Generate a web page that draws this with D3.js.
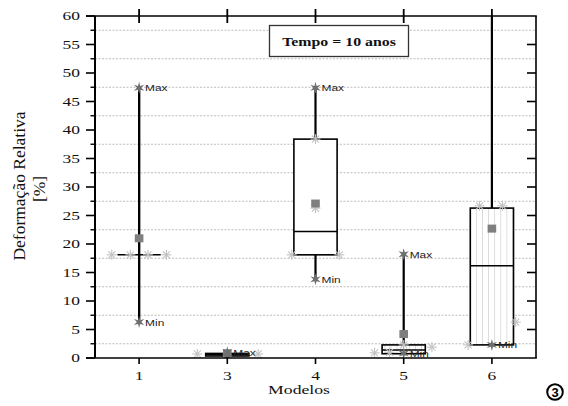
<!DOCTYPE html>
<html><head><meta charset="utf-8">
<script src="https://cdn.jsdelivr.net/npm/d3@7"></script>
<style>html,body{margin:0;padding:0;background:#fff}svg{display:block}</style>
</head><body><svg id="c" width="568" height="406"></svg>
<script>
// ---- data ----
const models = ["1", "3", "4", "5", "6"];
const minV  = [6.3, 0.2, 13.8, 0.8, 2.3];
const q1V   = [18.1, 0.35, 18.1, 0.75, 2.3];
const medV  = [18.1, 0.55, 22.2, 1.4, 16.2];
const q3V   = [18.1, 0.8, 38.4, 2.3, 26.3];
const maxV  = [47.4, 1.0, 47.4, 18.2, 75];
const meanV = [21.0, 0.85, 27.1, 4.2, 22.7];
const hatched = [false, false, false, true, true];
const minLabel = [true, false, true, true, true];
const maxLabel = [true, true, true, true, false];
const ptModel = ["1","1","1","1","3","3","4","4","4","4","5","5","5","5","6","6","6","6"];
const ptValue = [18.1,18.1,18.1,18.1,0.7,0.7,18.1,18.1,38.4,26.3,0.9,1.0,2.3,1.9,2.3,6.3,26.7,26.7];
const ptSlot  = [-0.31,-0.10,0.10,0.31,-0.34,0.35,-0.27,0.27,0,0,-0.33,-0.16,0,0.32,-0.27,0.27,-0.14,0.12];
const yTicks = d3.range(0, 61, 5);
const yMinor = d3.range(2.5, 60, 5);
const xTitle = "Modelos";
const yTitle1 = "Deformação Relativa";
const yTitle2 = "[%]";
const legendText = "Tempo = 10 anos";

// ---- layout ----
const L = 95, R = 536, T = 16, B = 358;
const svg = d3.select("#c");
const x = d3.scaleBand().domain(models).range([L, R]).padding(0);
const y = d3.scaleLinear().domain([0, 60]).range([B, T]);
const bw = x.bandwidth();
const slot = d3.scaleLinear().domain([-1, 1]).range([-bw, bw]);
const cx = m => x(m) + bw / 2;
const boxW = bw * 0.49;
const SX = 1.4;
const serif = "'Liberation Serif','Times New Roman',serif";
const sans = "'Liberation Sans',Arial,sans-serif";

function stext(g, px, py, str, o) {
  return g.append("text")
    .attr("transform", `translate(${px},${py}) scale(${o.sx || SX},1)`)
    .attr("text-anchor", o.anchor || "start")
    .attr("font-family", o.font || serif)
    .attr("font-size", o.size || 12.5)
    .attr("font-weight", o.weight || "normal")
    .attr("fill", o.fill || "#111")
    .text(str);
}

// hatch pattern
const defs = svg.append("defs");
const pat = defs.append("pattern").attr("id", "hatch").attr("patternUnits", "userSpaceOnUse")
  .attr("x", 470.7).attr("y", 0).attr("width", 6.1).attr("height", 10);
pat.append("rect").attr("width", 6.1).attr("height", 10).attr("fill", "#fff");
pat.append("line").attr("x1", 6.1).attr("x2", 6.1).attr("y1", 0).attr("y2", 10)
  .attr("stroke", "#c8c8c8").attr("stroke-width", 1.2);
defs.append("clipPath").attr("id", "plot").append("rect")
  .attr("x", L).attr("y", T).attr("width", R - L).attr("height", B - T);

// gridlines
svg.append("g").selectAll("line").data(yMinor).join("line")
  .attr("x1", L).attr("x2", R).attr("y1", d => y(d)).attr("y2", d => y(d))
  .attr("stroke", "#bdbdbd").attr("stroke-width", 1).attr("stroke-dasharray", "2,1.5");

// legend box
svg.append("rect").attr("x", 269.5).attr("y", 25.5).attr("width", 139).attr("height", 31)
  .attr("fill", "#fff").attr("stroke", "#333").attr("stroke-width", 1.3);
stext(svg, 339, 46, legendText, {anchor: "middle", size: 11.5, weight: "bold", sx: 1.38});

const plot = svg.append("g").attr("clip-path", "url(#plot)");

// boxes
models.forEach((m, i) => {
  const c = cx(m);
  // whiskers
  plot.append("line").attr("x1", c).attr("x2", c).attr("y1", y(q3V[i])).attr("y2", y(maxV[i]))
    .attr("stroke", "#000").attr("stroke-width", 2.2);
  plot.append("line").attr("x1", c).attr("x2", c).attr("y1", y(minV[i])).attr("y2", y(q1V[i]))
    .attr("stroke", "#000").attr("stroke-width", 2.2);
  plot.append("rect").attr("x", c - boxW / 2).attr("width", boxW)
    .attr("y", y(q3V[i])).attr("height", y(q1V[i]) - y(q3V[i]))
    .attr("fill", hatched[i] ? "url(#hatch)" : (q3V[i] - q1V[i] > 1 ? "#fff" : "none"))
    .attr("stroke", "#000").attr("stroke-width", q3V[i] === q1V[i] ? 2.2 : 1.6);
  plot.append("line").attr("x1", c - boxW / 2).attr("x2", c + boxW / 2)
    .attr("y1", y(medV[i])).attr("y2", y(medV[i])).attr("stroke", "#000").attr("stroke-width", 1.5);
});
// whisker for model 1 passes through box again (collapsed box)
plot.append("line").attr("x1", cx("1")).attr("x2", cx("1")).attr("y1", y(maxV[0])).attr("y2", y(minV[0]))
  .attr("stroke", "#000").attr("stroke-width", 2.2);

// light asterisks
function lightAst(g, px, py) {
  const r = 5;
  const a = g.append("g").attr("transform", `translate(${px},${py})`)
    .attr("stroke", "#c2c2c2").attr("stroke-width", 1.1);
  [0, 45, 90, 135].forEach(ang => {
    const t = ang * Math.PI / 180;
    a.append("line").attr("x1", -r * Math.cos(t)).attr("y1", -r * Math.sin(t))
      .attr("x2", r * Math.cos(t)).attr("y2", r * Math.sin(t));
  });
}
ptModel.forEach((m, i) => lightAst(plot, cx(m) + slot(ptSlot[i]), y(ptValue[i])));

// mean squares
models.forEach((m, i) => {
  plot.append("rect").attr("x", cx(m) - 4.3).attr("y", y(meanV[i]) - 4)
    .attr("width", 8.6).attr("height", 8).attr("fill", "#7f7f7f");
});

// star markers
function starPath(ro, ri, n) {
  const pts = [];
  for (let k = 0; k < 2 * n; k++) {
    const r = k % 2 === 0 ? ro : ri;
    const t = -Math.PI / 2 + k * Math.PI / n;
    pts.push([r * Math.cos(t), r * Math.sin(t)]);
  }
  return "M" + pts.map(p => p.join(",")).join("L") + "Z";
}
const sp = starPath(6, 2.2, 6);
models.forEach((m, i) => {
  const c = cx(m);
  if (maxV[i] <= 60) {
    plot.append("path").attr("d", sp).attr("transform", `translate(${c},${y(maxV[i])})`).attr("fill", "#6f6f6f");
    if (maxLabel[i]) stext(svg, c + 6, y(maxV[i]) + 3.5, "Max", {font: sans, size: 8.5, sx: 1.4, fill: "#222"});
  }
  plot.append("path").attr("d", sp).attr("transform", `translate(${c},${y(minV[i])})`).attr("fill", "#6f6f6f");
  if (minLabel[i]) stext(svg, c + 6, y(minV[i]) + 3.5, "Min", {font: sans, size: 8.5, sx: 1.4, fill: "#222"});
});

// frame
const ax = svg.append("g").attr("stroke", "#000");
ax.append("line").attr("x1", L).attr("x2", L).attr("y1", T).attr("y2", B).attr("stroke-width", 2);
ax.append("line").attr("x1", 86).attr("x2", R + 0.8).attr("y1", B).attr("y2", B).attr("stroke-width", 1.6);
ax.append("line").attr("x1", 86).attr("x2", R + 0.8).attr("y1", T).attr("y2", T).attr("stroke-width", 1.6);
ax.append("line").attr("x1", R).attr("x2", R).attr("y1", T).attr("y2", B).attr("stroke-width", 1.6);

// left ticks
ax.selectAll(".maj").data(yTicks).join("line")
  .attr("x1", 86).attr("x2", L).attr("y1", d => y(d)).attr("y2", d => y(d)).attr("stroke-width", 1.6);
ax.selectAll(".min").data(yMinor).join("line").attr("class", "min")
  .attr("x1", 90.5).attr("x2", L).attr("y1", d => y(d)).attr("y2", d => y(d)).attr("stroke-width", 1.4);
// right ticks
ax.selectAll(".rt").data(yTicks.filter(d => d > 0 && d < 60)).join("line").attr("class", "rt")
  .attr("x1", R - 9).attr("x2", R).attr("y1", d => y(d)).attr("y2", d => y(d)).attr("stroke-width", 1.6);
// top & bottom ticks
ax.selectAll(".tt").data(models).join("line").attr("class", "tt")
  .attr("x1", d => cx(d)).attr("x2", d => cx(d)).attr("y1", T - 7).attr("y2", T + 7).attr("stroke-width", 1.8);
ax.selectAll(".bt").data(models).join("line").attr("class", "bt")
  .attr("x1", d => cx(d)).attr("x2", d => cx(d)).attr("y1", B).attr("y2", B + 6).attr("stroke-width", 1.6);

// tick labels
yTicks.forEach(v => stext(svg, 80, y(v) + 4.3, String(v), {anchor: "end", size: 12.5, sx: 1.4}));
models.forEach(m => stext(svg, cx(m), 380, m, {anchor: "middle", size: 12.5, sx: 1.4}));

// titles
stext(svg, 299, 394, xTitle, {anchor: "middle", size: 13, sx: 1.36});
svg.append("text").attr("transform", "translate(25,186) rotate(-90)").attr("text-anchor", "middle")
  .attr("font-family", serif).attr("font-size", 17.5).attr("fill", "#111").text(yTitle1);
svg.append("text").attr("transform", "translate(45,189) rotate(-90)").attr("text-anchor", "middle")
  .attr("font-family", serif).attr("font-size", 17.5).attr("fill", "#111").text(yTitle2);

// circled 3
svg.append("circle").attr("cx", 555).attr("cy", 392).attr("r", 7.8).attr("fill", "none")
  .attr("stroke", "#000").attr("stroke-width", 2);
svg.append("text").attr("x", 555).attr("y", 396.8).attr("text-anchor", "middle")
  .attr("font-family", sans).attr("font-weight", "bold").attr("font-size", 13).text("3");
</script></body></html>
